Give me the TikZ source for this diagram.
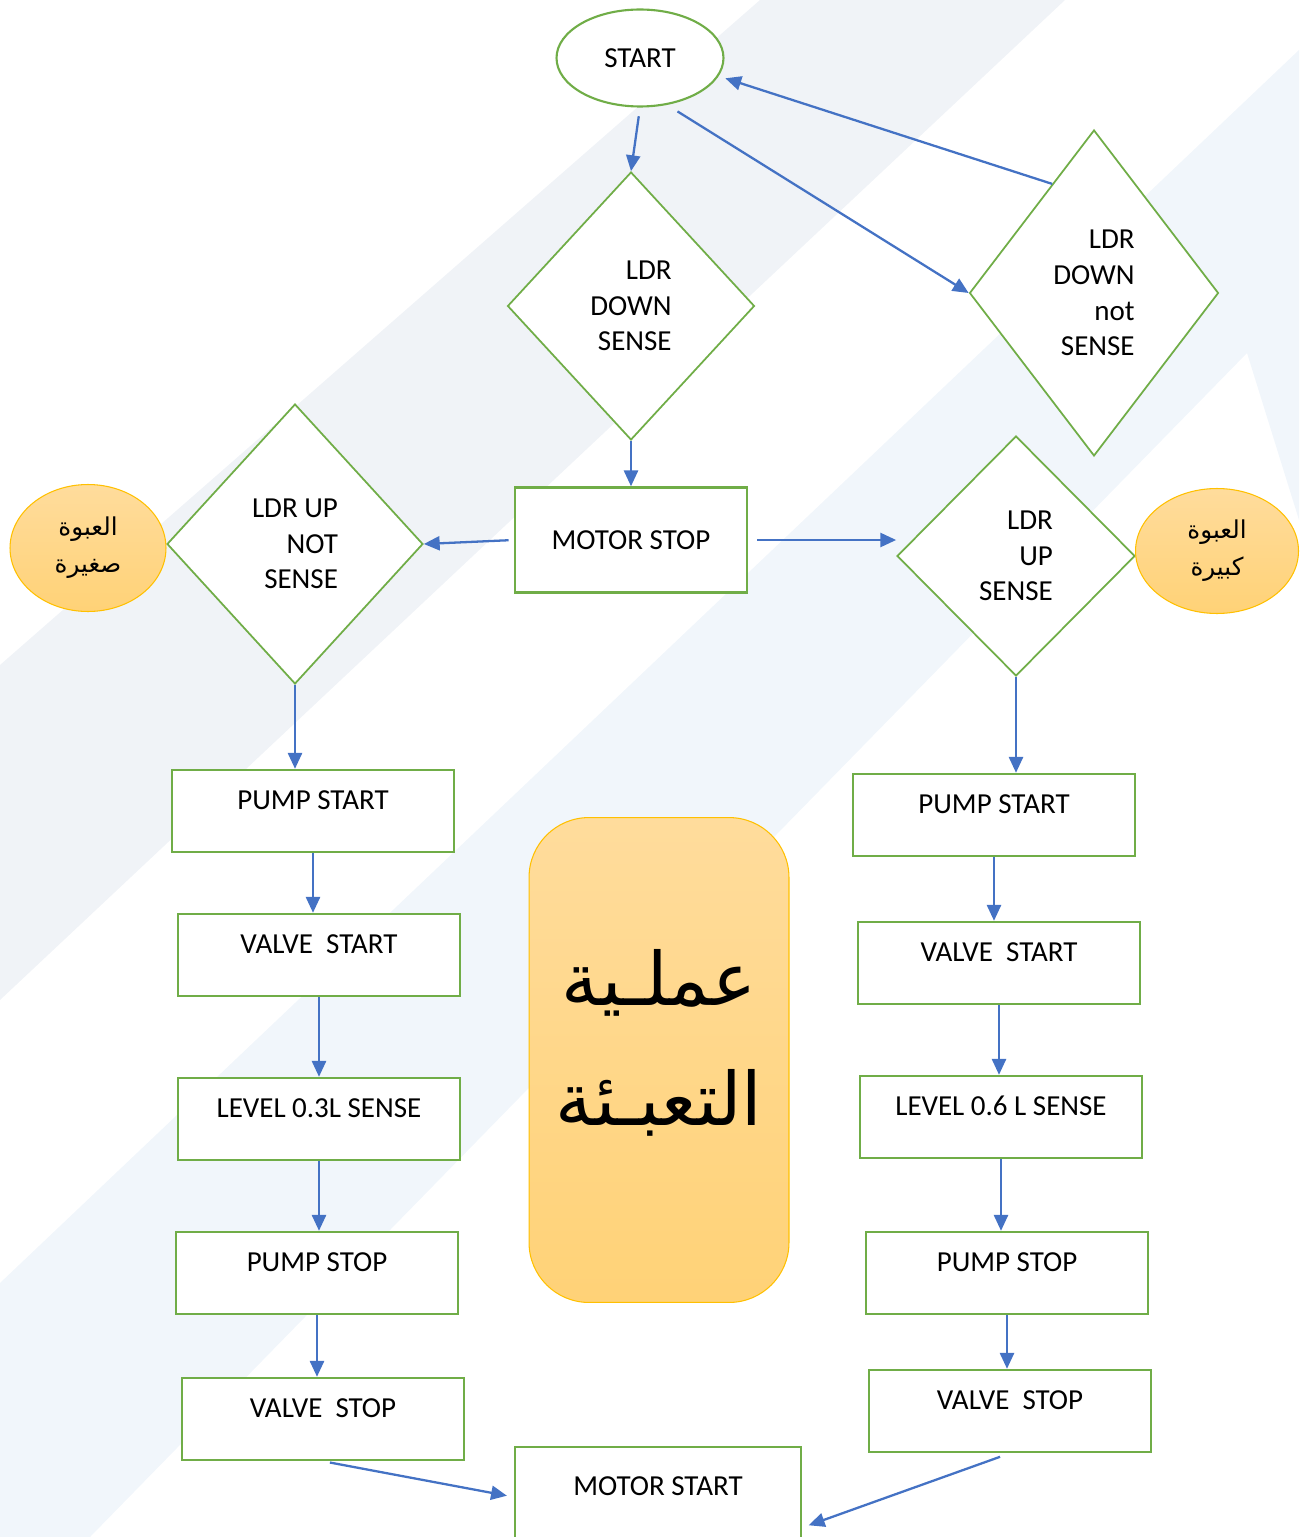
\documentclass[tikz,border=0pt]{standalone}
\usepackage{fontspec}
\setmainfont{Carlito}
\newfontfamily\arabicfont[Script=Arabic]{DejaVu Sans}
\TeXXeTstate=1
\usetikzlibrary{%
    arrows.meta,
    shapes.geometric,
    positioning
}
\definecolor{boxgreen}{HTML}{70AD47}
\definecolor{flowblue}{HTML}{4472C4}
\definecolor{tagrim}{HTML}{FFC000}
\definecolor{tagtop}{HTML}{FFDC9C}
\definecolor{tagbot}{HTML}{FFD277}
\definecolor{bandgrey}{HTML}{F0F3F7}
\definecolor{bandblue}{HTML}{F1F6FB}
\tikzset{
    flow/.style = {draw=flowblue, line width=1.3pt, -{Triangle[length=9pt,width=8pt]}},
    plainbox/.style = {draw=boxgreen, line width=1.4pt, fill=white, inner sep=0pt},
    procbox/.style = {plainbox, minimum width=5.64cm, minimum height=1.64cm,
        text height=12pt, text depth=14pt},
    decision/.style = {diamond, draw=boxgreen, line width=1pt, fill=white,
        align=right, inner sep=0pt},
    terminal/.style = {ellipse, draw=boxgreen, line width=1.2pt, fill=white},
    sizetag/.style = {ellipse, draw=tagrim, line width=0.6pt, top color=tagtop,
        bottom color=tagbot, align=center, inner sep=0pt,
        font=\arabicfont\fontsize{14}{21}\selectfont},
    titlebox/.style = {rounded corners=1.2cm, draw=tagrim, line width=0.6pt,
        top color=tagtop, bottom color=tagbot, align=center,
        minimum width=5.2cm, minimum height=9.7cm, text depth=0.9cm,
        font=\arabicfont\fontsize{42}{68}\selectfont}
}

\begin{document}
\begin{tikzpicture}[x=0.02cm, y=-0.02cm, font=\fontsize{16.5}{20.3}\selectfont]
    \useasboundingbox (0,0) rectangle (1299,1537);

    % background bands
    \fill[bandgrey] (0,665) -- (760,0) -- (1065,0) -- (0,1000) -- cycle;
    \fill[bandblue] (0,1283) -- (1299,50) -- (1299,520) -- (1247,353)
        -- (90,1537) -- (0,1537) -- cycle;

    \node[terminal, minimum width=3.34cm, minimum height=1.94cm] (start) at (640,58) {START};
    \node[decision, minimum width=4.94cm, minimum height=5.36cm] (ldrdown) at (631,306)
        {LDR\\DOWN\\SENSE};
    \node[decision, minimum width=4.98cm, minimum height=6.52cm] (ldrdownnot) at (1094,293)
        {LDR\\DOWN\\not\\SENSE};
    \node[plainbox, minimum width=4.64cm, minimum height=2.1cm] (motorstop) at (631,540)
        {MOTOR STOP};
    \node[decision, minimum width=5.12cm, minimum height=5.6cm] (ldrupnot) at (295,544)
        {LDR UP\\NOT\\SENSE};
    \node[decision, minimum width=4.76cm, minimum height=4.8cm] (ldrup) at (1016,556)
        {LDR\\UP\\SENSE};

    \node[sizetag, minimum width=3.12cm, minimum height=2.54cm] (smalltag) at (88,548)
        {\beginR العبوة\endR\\\beginR صغيرة\endR};
    \node[sizetag, minimum width=3.26cm, minimum height=2.5cm] (largetag) at (1217,551)
        {\beginR العبوة\endR\\\beginR كبيرة\endR};

    \foreach \id/\x/\y/\txt in {%
        pumpL/313/811/PUMP START,
        valveL/319/955/VALVE\ \ START,
        levelL/319/1119/LEVEL 0.3L SENSE,
        pstopL/317/1273/PUMP STOP,
        vstopL/323/1419/VALVE\ \ STOP,
        pumpR/994/815/PUMP START,
        valveR/999/963/VALVE\ \ START,
        levelR/1001/1117/LEVEL 0.6 L SENSE,
        pstopR/1007/1273/PUMP STOP,
        vstopR/1010/1411/VALVE\ \ STOP%
        }
        \node[procbox] (\id) at (\x,\y) {\txt};

    \node[procbox, minimum width=5.72cm, minimum height=2cm] (mstart) at (658,1497)
        {MOTOR START};

    \node[titlebox] (title) at (659,1060) {\beginR عملـية\endR\\\beginR التعبـئة\endR};

    \draw[flow, shorten <=5pt] (start.south) -- (ldrdown.north);
    \draw[flow, shorten <=7pt] (start.-60) -- (ldrdownnot.west);
    \draw[flow, shorten >=4pt] (ldrdownnot.111) -- (start.-13);
    \draw[flow] (ldrdown.south) -- (motorstop.north);
    \draw[flow, shorten <=3pt] (motorstop.west) -- (ldrupnot.east);
    \draw[flow, shorten <=5pt] (motorstop.east) -- (motorstop.east -| ldrup.west);

    \foreach \a/\b in {%
        ldrupnot/pumpL, pumpL/valveL, valveL/levelL, levelL/pstopL, pstopL/vstopL,
        ldrup/pumpR, pumpR/valveR, valveR/levelR, levelR/pstopR, pstopR/vstopR%
        }
        \draw[flow] (\a.south) -- (\a.south |- \b.north);

    \draw[flow, shorten <=4pt, shorten >=4pt] (vstopL.south) -- (mstart.west);
    \draw[flow, shorten <=6pt, shorten >=4pt] (vstopR.south) -- (mstart.-12);
\end{tikzpicture}
\end{document}
